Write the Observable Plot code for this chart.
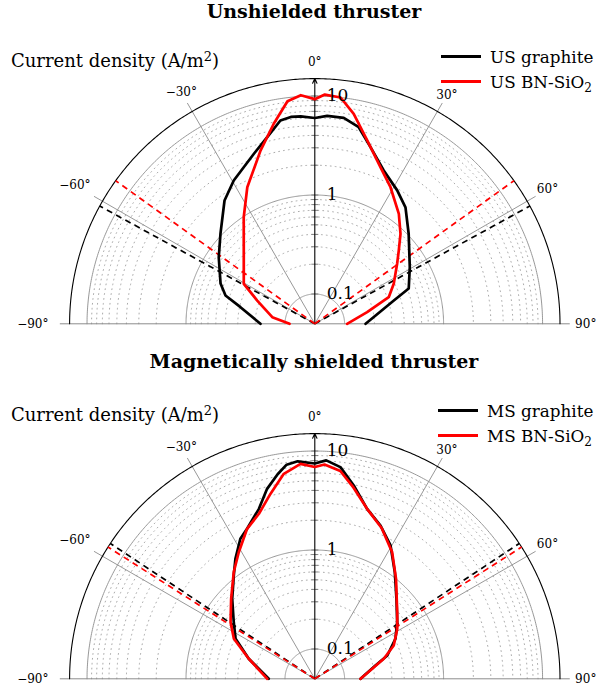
<!DOCTYPE html>
<html><head><meta charset="utf-8">
<script src="https://cdn.jsdelivr.net/npm/d3@7"></script>
<script src="https://cdn.jsdelivr.net/npm/@observablehq/plot@0.6"></script>
<style>
body{margin:0;background:#fff;font-family:"DejaVu Serif",serif;color:#000;}
#wrap{position:relative;width:599px;height:685px;overflow:hidden;}
#wrap svg{display:block;}
.title{position:absolute;left:0;width:628px;text-align:center;font-weight:bold;font-size:19px;line-height:22px;}
.ylab{position:absolute;left:11px;font-size:18px;line-height:22px;white-space:nowrap;}
.leg{position:absolute;font-size:16.8px;line-height:20px;}
.row{display:flex;align-items:center;height:25px;white-space:nowrap;}
.sw{display:inline-block;width:40px;height:3px;margin-right:9px;}
sub{font-size:0.72em;position:relative;top:0.5em;vertical-align:baseline;line-height:0;}
sup{font-size:0.72em;position:relative;top:-0.45em;vertical-align:baseline;line-height:0;}
</style></head>
<body>
<div id="wrap">
  <div id="c1" style="position:absolute;left:0;top:0;"></div>
  <div id="c2" style="position:absolute;left:0;top:340px;"></div>
  <div class="title" style="top:0px;">Unshielded thruster</div>
  <div class="ylab" style="top:50px;">Current density (A/m<sup>2</sup>)</div>
  <div class="leg" style="left:441px;top:44px;">
    <div class="row"><span class="sw" style="background:#000"></span>US graphite</div>
    <div class="row"><span class="sw" style="background:#f00"></span>US BN-SiO<sub>2</sub></div>
  </div>
  <div class="title" style="top:350px;">Magnetically shielded thruster</div>
  <div class="ylab" style="top:404px;">Current density (A/m<sup>2</sup>)</div>
  <div class="leg" style="left:438px;top:398px;">
    <div class="row"><span class="sw" style="background:#000"></span>MS graphite</div>
    <div class="row"><span class="sw" style="background:#f00"></span>MS BN-SiO<sub>2</sub></div>
  </div>
</div>
<script>
// ---- data (angle in degrees, current density in A/m^2) ----
const usGraphiteAngle = [-90, -77.4, -72.4, -66.9, -55.3, -46.3, -36.2, -29.5, -19.7, -14.3, -9.6, -6.6, -3.9, 0, 3.4, 8.0, 12.6, 17.5, 24.2, 31.7, 37.9, 46.2, 59.2, 69.4, 73.6, 90];
const usGraphiteJ     = [0.177, 0.294, 0.442, 0.542, 0.757, 1.04, 1.75, 2.30, 3.34, 4.41, 6.05, 6.35, 6.3, 6.0, 6.35, 6.3, 5.42, 3.72, 2.50, 1.92, 1.55, 1.03, 0.655, 0.516, 0.340, 0.163];
const usBnAngle = [-90, -81.2, -68.0, -60.6, -44.1, -33.7, -26.3, -17.4, -11.6, -7.0, -3.5, 0, 2.5, 6.5, 10.5, 16.0, 22.8, 29.0, 37.4, 43.6, 48.9, 53.9, 63.1, 70.2, 77.5, 90];
const usBnJ     = [0.090, 0.136, 0.212, 0.333, 0.537, 0.984, 1.73, 3.41, 5.78, 9.2, 10.3, 9.3, 10.4, 10.0, 7.19, 4.21, 2.59, 1.89, 1.25, 0.90, 0.668, 0.535, 0.392, 0.311, 0.174, 0.106];
const msGraphiteAngle = [-90, -73.1, -63.2, -55.1, -45.9, -38.1, -33.5, -28.0, -24.3, -18.2, -14.1, -10.3, -7.5, -4.5, 0, 3.0, 6.9, 11.4, 17.1, 23.2, 29.6, 36.9, 45.6, 55.5, 63.6, 72.2, 77.6, 90];
const msGraphiteJ     = [0.146, 0.249, 0.394, 0.498, 0.726, 1.06, 1.42, 2.00, 2.30, 3.21, 4.76, 6.3, 7.6, 8.0, 7.48, 8.1, 7.13, 4.91, 3.13, 2.42, 1.77, 1.11, 0.714, 0.512, 0.406, 0.294, 0.212, 0.145];
const msBnAngle = [-90, -73.1, -63.7, -56.1, -46.3, -37.2, -31.0, -24.3, -18.7, -13.5, -8.6, -3.8, 0, 2.6, 7.0, 11.4, 17.1, 23.9, 31.4, 39.1, 51.0, 58.8, 67.1, 73.8, 80.1, 90];
const msBnJ     = [0.151, 0.249, 0.408, 0.530, 0.738, 1.13, 1.55, 2.30, 2.88, 4.17, 6.21, 7.51, 6.89, 7.35, 6.52, 4.69, 3.13, 2.32, 1.58, 1.00, 0.589, 0.471, 0.367, 0.266, 0.194, 0.145];
// divergence half-angles (dashed lines), degrees
const usDivergence = [61.3, 54.3];   // graphite, BN-SiO2
const msDivergence = [56.5, 57.5];   // graphite, BN-SiO2
// radial ticks
const majorTicks = [0.1, 1, 10];
const majorLabels = ["0.1", "1", "10"];
const minorTicks = [0.2,0.3,0.4,0.5,0.6,0.7,0.8,0.9,2,3,4,5,6,7,8,9];
const angleTicks = [-90, -60, -30, 0, 30, 60, 90];
const rDomain = [0.05, 15];

// ---- geometry helpers ----
const rScale = d3.scaleLog().domain(rDomain).range([0, Math.log10(rDomain[1] / rDomain[0])]);
const R = rScale(rDomain[1]);
const PX = 99; // pixels per decade
const rad = d => d * Math.PI / 180;
const pt = (deg, r) => ({x: r * Math.sin(rad(deg)), y: r * Math.cos(rad(deg))});
const series = (angles, vals) => angles.map((a, i) => pt(a, rScale(vals[i])));

function chart({height, marginTop, marginBottom, curves, dashes}) {
  const arcA = d3.range(-90, 90.001, 0.5);
  const arcs = vals => vals.flatMap(v => arcA.map(a => ({...pt(a, rScale(v)), k: v})));
  const outer = arcA.map(a => pt(a, R));
  const spokeR = 255 / PX;
  const spokes = [-60, -30, 30, 60].map(a => ({a, ...pt(a, spokeR)}));
  const dashLines = dashes.map(d => ({...d, ...pt(d.a, R)}));
  const tickH = 3.5 / PX;
  const axisTicks = minorTicks.concat(majorTicks).map(v => ({y: rScale(v)}));
  const labels = angleTicks.map(a => {
    const txt = (a < 0 ? "\u2212" : "") + Math.abs(a) + "\u00b0";
    const s = Math.sin(rad(a));
    const rl = 262 + (a < 0 ? 20 : 9) * s * s;
    return {txt, ...pt(a, rl / PX)};
  });
  return Plot.plot({
    width: 599, height, marginLeft: 69.1, marginRight: 39.5, marginTop, marginBottom,
    x: {domain: [-R, R], axis: null},
    y: {domain: [0, R], axis: null},
    style: {fontFamily: "DejaVu Serif", overflow: "visible", background: "transparent"},
    marks: [
      Plot.line(arcs(minorTicks), {x: "x", y: "y", z: "k", stroke: "#a0a0a0", strokeWidth: 0.9, strokeDasharray: "0.9,4"}),
      Plot.line(arcs(majorTicks), {x: "x", y: "y", z: "k", stroke: "#8c8c8c", strokeWidth: 0.9}),
      Plot.link(spokes, {x1: 0, y1: 0, x2: "x", y2: "y", stroke: "#8c8c8c", strokeWidth: 0.9}),
      Plot.link([{x1: -spokeR, x2: spokeR}], {x1: "x1", x2: "x2", y1: 0, y2: 0, stroke: "#8c8c8c", strokeWidth: 1}),
      Plot.line(outer, {x: "x", y: "y", stroke: "#000", strokeWidth: 1.1}),
      Plot.link(axisTicks, {x1: -tickH, x2: tickH, y1: "y", y2: "y", stroke: "#777", strokeWidth: 0.9}),
      Plot.arrow([{y2: R}], {x1: 0, y1: 0, x2: 0, y2: "y2", stroke: "#000", strokeWidth: 1.1, headLength: 7, headAngle: 50}),
      Plot.link(dashLines, {x1: 0, y1: 0, x2: "x", y2: "y", stroke: "c", strokeWidth: 1.7, strokeDasharray: "6,4.5"}),
      ...curves.map(c => Plot.line(c.pts, {x: "x", y: "y", stroke: c.color, strokeWidth: 2.7, strokeLinejoin: "round"})),
      Plot.text(majorTicks.map((v, i) => ({y: rScale(v), t: majorLabels[i]})), {x: 0, y: "y", text: "t", dx: 12, textAnchor: "start", fontSize: 17}),
      Plot.text(labels, {x: "x", y: "y", text: "txt", fontSize: 12})
    ]
  });
}

const c1 = chart({
  height: 340, marginTop: 78.1, marginBottom: 16.7,
  curves: [
    {pts: series(usGraphiteAngle, usGraphiteJ), color: "#000"},
    {pts: series(usBnAngle, usBnJ), color: "#f00"}
  ],
  dashes: [-1, 1].flatMap(s => [{a: s * usDivergence[0], c: "#000"}, {a: s * usDivergence[1], c: "#f00"}])
});
const c2 = chart({
  height: 345, marginTop: 93.1, marginBottom: 6.7,
  curves: [
    {pts: series(msGraphiteAngle, msGraphiteJ), color: "#000"},
    {pts: series(msBnAngle, msBnJ), color: "#f00"}
  ],
  dashes: [-1, 1].flatMap(s => [{a: s * msDivergence[0], c: "#000"}, {a: s * msDivergence[1], c: "#f00"}])
});
document.getElementById("c1").appendChild(c1);
document.getElementById("c2").appendChild(c2);
</script>
</body></html>
